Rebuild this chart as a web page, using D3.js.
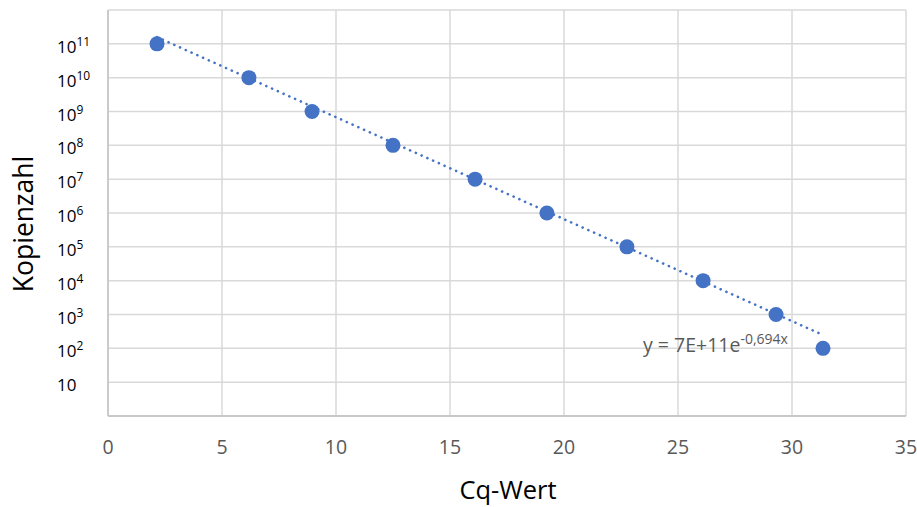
<!DOCTYPE html>
<html>
<head>
<meta charset="utf-8">
<script src="https://cdn.jsdelivr.net/npm/d3@7"></script>
<style>
  html, body { margin: 0; padding: 0; background: #fff; }
  svg { display: block; }
</style>
</head>
<body>
<svg id="chart" width="917" height="507"></svg>
<script>
// Standard curve: Cq value vs. copy number
const cqValues = [2.15, 6.18, 8.95, 12.5, 16.1, 19.25, 22.76, 26.1, 29.3, 31.36];
const copyNumbers = [1e11, 1e10, 1e9, 1e8, 1e7, 1e6, 1e5, 1e4, 1e3, 1e2];
const xTicks = [0, 5, 10, 15, 20, 25, 30, 35];
const yGrid = [1, 10, 1e2, 1e3, 1e4, 1e5, 1e6, 1e7, 1e8, 1e9, 1e10, 1e11, 1e12];
const yTickLabels = [
  { v: 10, base: "10", sup: "" },
  { v: 1e2, base: "10", sup: "2" },
  { v: 1e3, base: "10", sup: "3" },
  { v: 1e4, base: "10", sup: "4" },
  { v: 1e5, base: "10", sup: "5" },
  { v: 1e6, base: "10", sup: "6" },
  { v: 1e7, base: "10", sup: "7" },
  { v: 1e8, base: "10", sup: "8" },
  { v: 1e9, base: "10", sup: "9" },
  { v: 1e10, base: "10", sup: "10" },
  { v: 1e11, base: "10", sup: "11" }
];
// Exponential trendline y = a * e^(b x)
const trendA = 7e11;
const trendB = -0.694;

const svg = d3.select("#chart");
const color = "#4472C4";
const gridColor = "#d9d9d9";
const font = "'Open Sans', 'Liberation Sans', sans-serif";

const x = d3.scaleLinear().domain([0, 35]).range([108, 906]);
const y = d3.scaleLog().domain([1, 1e12]).range([416, 10]);

// Gridlines
const grid = svg.append("g");
grid.selectAll("line.h").data(yGrid).join("line")
  .attr("x1", x(0)).attr("x2", x(35))
  .attr("y1", d => y(d)).attr("y2", d => y(d))
  .attr("stroke", gridColor).attr("stroke-width", 1.5);
grid.selectAll("line.v").data(xTicks).join("line")
  .attr("x1", d => x(d)).attr("x2", d => x(d))
  .attr("y1", y(1e12)).attr("y2", y(1))
  .attr("stroke", gridColor).attr("stroke-width", 1.5);

// Axis lines
svg.append("line").attr("x1", x(0)).attr("x2", x(0)).attr("y1", y(1e12)).attr("y2", y(1))
  .attr("stroke", "#c8c8c8").attr("stroke-width", 1.8);
svg.append("line").attr("x1", x(0)).attr("x2", x(35)).attr("y1", y(1)).attr("y2", y(1))
  .attr("stroke", "#c8c8c8").attr("stroke-width", 1.8);

// X tick labels
svg.append("g").selectAll("text").data(xTicks).join("text")
  .attr("x", d => x(d)).attr("y", 454)
  .attr("text-anchor", "middle")
  .attr("font-family", font).attr("font-size", 19.5)
  .attr("fill", "#595959")
  .text(d => d);

// Y tick labels with superscript exponents
const yl = svg.append("g").selectAll("text").data(yTickLabels).join("text")
  .attr("x", 57).attr("y", d => y(d.v) + 9)
  .attr("font-family", font).attr("font-size", 17)
  .attr("fill", "#000");
yl.append("tspan").text(d => d.base);
yl.append("tspan").attr("dy", -7).attr("font-size", 12).text(d => d.sup);

// Axis titles
svg.append("text")
  .attr("transform", `translate(33, ${(y(1) + y(1e12)) / 2 + 11}) rotate(-90)`)
  .attr("text-anchor", "middle")
  .attr("font-family", font).attr("font-size", 26.5)
  .attr("fill", "#000")
  .text("Kopienzahl");
svg.append("text")
  .attr("x", 508).attr("y", 499)
  .attr("text-anchor", "middle")
  .attr("font-family", font).attr("font-size", 25.5)
  .attr("fill", "#000")
  .text("Cq-Wert");

// Trendline (dotted), spanning the data range
const xMin = d3.min(cqValues), xMax = d3.max(cqValues);
const trendPts = d3.range(0, 101).map(i => {
  const cq = xMin + (xMax - xMin) * i / 100;
  return [cq, trendA * Math.exp(trendB * cq)];
});
svg.append("path")
  .datum(trendPts)
  .attr("d", d3.line().x(d => x(d[0])).y(d => y(d[1])))
  .attr("fill", "none")
  .attr("stroke", color)
  .attr("stroke-width", 2.6)
  .attr("stroke-linecap", "round")
  .attr("stroke-dasharray", "0.1 6.2");

// Data points
svg.append("g").selectAll("circle").data(cqValues).join("circle")
  .attr("cx", d => x(d))
  .attr("cy", (d, i) => y(copyNumbers[i]))
  .attr("r", 7.5)
  .attr("fill", color);

// Trendline equation
const eq = svg.append("text")
  .attr("x", 643).attr("y", 352)
  .attr("font-family", font).attr("font-size", 19.5)
  .attr("fill", "#595959");
eq.append("tspan").text("y = 7E+11e");
eq.append("tspan").attr("dy", -8).attr("font-size", 14).text("-0,694x");
</script>
</body>
</html>
